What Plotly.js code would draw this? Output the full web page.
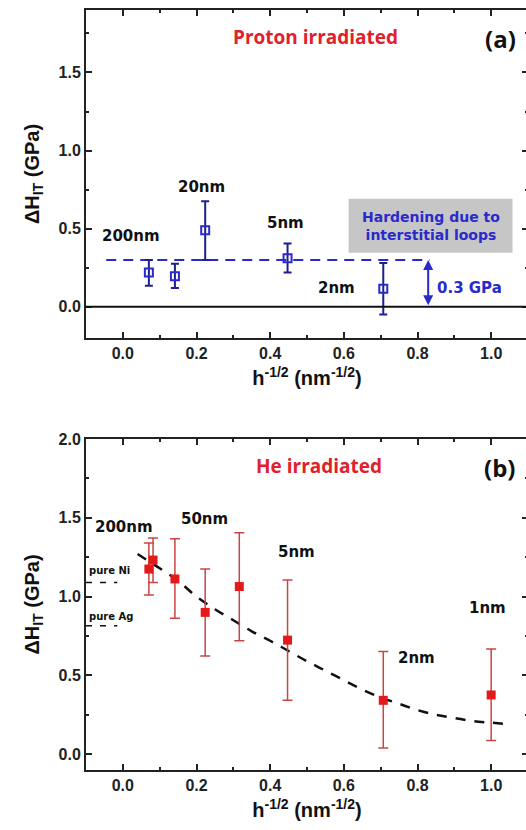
<!DOCTYPE html>
<html>
<head>
<meta charset="utf-8">
<script src="https://cdn.plot.ly/plotly-3.0.1.min.js"></script>
<style>
  html, body { margin: 0; padding: 0; overflow: hidden; background: #fff; }
  #chart { width: 540px; height: 830px; }
</style>
</head>
<body>
<div id="chart"></div>
<script>
// Panel (a): proton irradiated, hardening vs h^-1/2
const protonX = [0.0707, 0.1414, 0.2236, 0.4472, 0.7071];
const protonY = [0.22, 0.195, 0.49, 0.31, 0.115];
const protonErrPlus = [0.08, 0.08, 0.185, 0.095, 0.165];
const protonErrMinus = [0.085, 0.075, 0.19, 0.09, 0.165];
const loopLevelX = [-0.045, 0.833];
const loopLevelY = [0.3, 0.3];

// Panel (b): He irradiated
const heX = [0.0707, 0.082, 0.1414, 0.2236, 0.3162, 0.4472, 0.7071, 1.0];
const heY = [1.175, 1.232, 1.112, 0.90, 1.064, 0.724, 0.342, 0.376];
const heErrPlus = [0.165, 0.14, 0.255, 0.276, 0.341, 0.381, 0.31, 0.291];
const heErrMinus = [0.165, 0.142, 0.25, 0.276, 0.344, 0.382, 0.302, 0.289];
const fitX = [0.04, 0.1, 0.15, 0.2, 0.25, 0.3, 0.35, 0.4, 0.45, 0.5, 0.55, 0.6, 0.65, 0.7, 0.75, 0.8, 0.85, 0.9, 0.95, 1.0, 1.05];
const fitY = [1.27, 1.18, 1.10, 1.00, 0.92, 0.85, 0.78, 0.72, 0.655, 0.59, 0.53, 0.47, 0.41, 0.36, 0.32, 0.28, 0.25, 0.23, 0.21, 0.20, 0.19];
const pureNiX = [-0.1, -0.015], pureNiY = [1.09, 1.09];
const pureAgX = [-0.1, -0.015], pureAgY = [0.815, 0.815];

const xTickVals = [0.0, 0.2, 0.4, 0.6, 0.8, 1.0];
const xTickText = ['0.0', '0.2', '0.4', '0.6', '0.8', '1.0'];

const W = 540, H = 830;
const xDom = [86 / W, 528 / W];
const topDom = [(H - 338) / H, (H - 10) / H];
const botDom = [(H - 770) / H, (H - 439) / H];

const ARIAL = 'Liberation Sans, Arial, sans-serif';
const DEJAVU = 'DejaVu Sans, sans-serif';
const tickFont = { family: ARIAL, size: 16, color: '#222', weight: 'bold' };
const blue = '#2a2acc', navy = '#1f1f8f', red = '#e41a1a', errRed = '#c94545';

function xAxis(anchor) {
  return {
    domain: xDom, anchor: anchor, range: [-0.1, 1.1],
    tickvals: xTickVals, ticktext: xTickText, tickfont: tickFont,
    ticks: 'inside', ticklen: 6, tickwidth: 2, tickcolor: '#222',
    minor: { ticks: 'inside', ticklen: 3, tickwidth: 2, dtick: 0.1, tick0: 0, tickcolor: '#222' },
    showline: true, linewidth: 2, linecolor: '#222', mirror: 'ticks',
    showgrid: false, zeroline: false, automargin: false,
    title: { text: 'h<sup>-1/2</sup> (nm<sup>-1/2</sup>)', font: { family: ARIAL, size: 20, color: '#111', weight: 'bold' }, standoff: 10 }
  };
}
function yAxis(anchor, dom, range) {
  return {
    domain: dom, anchor: anchor, range: range,
    dtick: 0.5, tick0: 0, tickformat: '.1f', tickfont: tickFont,
    ticks: 'inside', ticklen: 6, tickwidth: 2, tickcolor: '#222',
    minor: { ticks: 'inside', ticklen: 3, tickwidth: 2, dtick: 0.25, tick0: 0, tickcolor: '#222' },
    showline: true, linewidth: 2, linecolor: '#222', mirror: 'ticks',
    showgrid: false, zeroline: false, automargin: false,
    title: { text: 'ΔH<sub>IT</sub> (GPa)', font: { family: ARIAL, size: 20, color: '#111', weight: 'bold' }, standoff: 14 }
  };
}

const traces = [
  { x: loopLevelX, y: loopLevelY, xaxis: 'x', yaxis: 'y', mode: 'lines',
    line: { color: blue, width: 2, dash: '10px,7px' }, hoverinfo: 'skip' },
  { x: protonX, y: protonY, xaxis: 'x', yaxis: 'y', mode: 'markers',
    marker: { symbol: 'square-open', size: 8, color: blue, line: { width: 2, color: blue } },
    error_y: { type: 'data', symmetric: false, array: protonErrPlus, arrayminus: protonErrMinus,
               color: navy, thickness: 2, width: 4 } },
  { x: fitX, y: fitY, xaxis: 'x2', yaxis: 'y2', mode: 'lines', line: { shape: 'spline', color: '#111', width: 2.5, dash: '10px,9px' }, hoverinfo: 'skip' },
  { x: pureNiX, y: pureNiY, xaxis: 'x2', yaxis: 'y2', mode: 'lines', line: { color: '#111', width: 1.5, dash: '6px,8px' }, hoverinfo: 'skip' },
  { x: pureAgX, y: pureAgY, xaxis: 'x2', yaxis: 'y2', mode: 'lines', line: { color: '#111', width: 1.5, dash: '6px,8px' }, hoverinfo: 'skip' },
  { x: heX, y: heY, xaxis: 'x2', yaxis: 'y2', mode: 'markers',
    marker: { symbol: 'square', size: 9, color: red },
    error_y: { type: 'data', symmetric: false, array: heErrPlus, arrayminus: heErrMinus,
               color: errRed, thickness: 1.5, width: 5 } }
];

function txt(xref, yref, x, y, text, font, extra) {
  return Object.assign({ xref: xref, yref: yref, x: x, y: y, text: text, showarrow: false, font: font }, extra || {});
}
const boldSans = (size, color) => ({ family: 'Open Sans, sans-serif', size: size, color: color, weight: 'bold' });
const boldWide = (size, color) => ({ family: DEJAVU, size: size, color: color, weight: 'bold' });

const annotations = [
  txt('x', 'y', 0.524, 1.724, 'Proton irradiated', boldSans(19, '#e0202a')),
  txt('x', 'y', 1.026, 1.72, '(a)', boldSans(24, '#111')),
  txt('x', 'y', 0.022, 0.45, '200nm', boldWide(15, '#111')),
  txt('x', 'y', 0.213, 0.767, '20nm', boldWide(15, '#111')),
  txt('x', 'y', 0.442, 0.536, '5nm', boldWide(15, '#111')),
  txt('x', 'y', 0.58, 0.12, '2nm', boldWide(15, '#111')),
  txt('x', 'y', 0.836, 0.515, 'Hardening due to<br>interstitial loops', boldWide(14, blue)),
  txt('x', 'y', 0.942, 0.12, '0.3 GPa', boldWide(15, blue)),
  { xref: 'x', yref: 'y', axref: 'x', ayref: 'y', x: 0.829, y: 0.3, ax: 0.829, ay: 0.0,
    text: '', showarrow: true, arrowhead: 2, arrowside: 'end+start', arrowsize: 1, arrowwidth: 2,
    arrowcolor: blue, standoff: 0, startstandoff: 0 },

  txt('x2', 'y2', 0.532, 1.83, 'He irradiated', boldSans(19, '#e0202a')),
  txt('x2', 'y2', 1.023, 1.82, '(b)', boldSans(24, '#111')),
  txt('x2', 'y2', 0.003, 1.44, '200nm', boldWide(15, '#111')),
  txt('x2', 'y2', 0.223, 1.49, '50nm', boldWide(15, '#111')),
  txt('x2', 'y2', 0.471, 1.28, '5nm', boldWide(15, '#111')),
  txt('x2', 'y2', 0.989, 0.93, '1nm', boldWide(15, '#111')),
  txt('x2', 'y2', 0.796, 0.61, '2nm', boldWide(15, '#111')),
  txt('x2', 'y2', -0.097, 1.166, 'pure Ni', boldWide(10, '#111'), { xanchor: 'left' }),
  txt('x2', 'y2', -0.097, 0.873, 'pure Ag', boldWide(10, '#111'), { xanchor: 'left' })
];

const shapes = [
  { type: 'rect', xref: 'x', yref: 'y', x0: 0.613, x1: 1.058, y0: 0.346, y1: 0.692,
    fillcolor: '#c6c6c6', line: { width: 0 }, layer: 'below' },
  { type: 'line', xref: 'x domain', yref: 'y', x0: 0, x1: 1, y0: 0, y1: 0,
    line: { color: '#111', width: 2 } }
];

const layout = {
  width: W, height: H,
  margin: { l: 0, r: 0, t: 0, b: 0 },
  paper_bgcolor: '#fff', plot_bgcolor: '#fff',
  showlegend: false,
  xaxis: xAxis('y'), yaxis: yAxis('x', topDom, [-0.2, 1.9]),
  xaxis2: xAxis('y2'), yaxis2: yAxis('x2', botDom, [-0.1, 2.0]),
  annotations: annotations, shapes: shapes
};

Plotly.newPlot('chart', traces, layout, { staticPlot: true });
</script>
</body>
</html>
